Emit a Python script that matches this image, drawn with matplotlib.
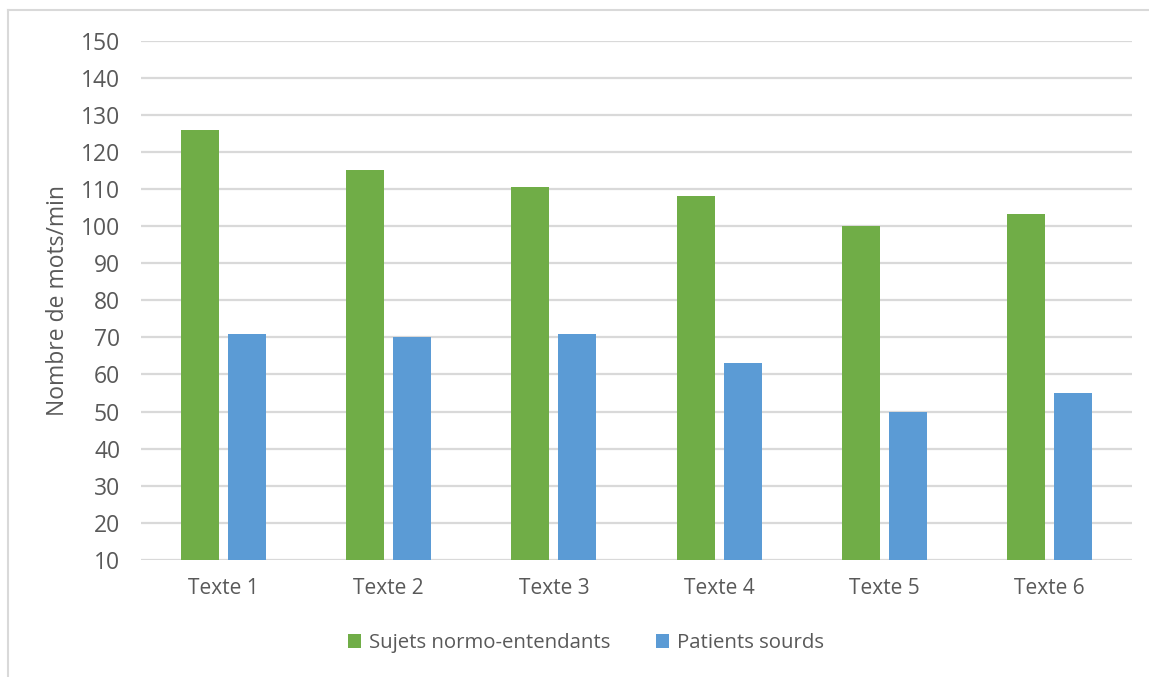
import matplotlib
matplotlib.use('Agg')
import matplotlib.pyplot as plt
from matplotlib.patches import Patch
from matplotlib.lines import Line2D
import numpy as np

categories = ['Texte 1', 'Texte 2', 'Texte 3', 'Texte 4', 'Texte 5', 'Texte 6']
normo = [126, 115, 110.5, 108, 100, 103.3]
sourds = [71, 70, 71, 63, 50, 55]
series_names = ['Sujets normo-entendants', 'Patients sourds']
yticks = list(range(10, 151, 10))

green = '#70AD47'
blue = '#5B9BD5'
text_col = '#595959'
grid_col = '#D9D9D9'

plt.rcParams['font.family'] = ['Open Sans', 'DejaVu Sans']

fig = plt.figure(figsize=(11.49, 6.77), dpi=100)
ax = fig.add_axes([141 / 1149, 1 - 560 / 677, (1132 - 141) / 1149, (560 - 40.5) / 677])

x = np.arange(len(categories))
w = 0.23
ax.bar(x - 0.1425, [v - 10 for v in normo], w, bottom=10, color=green, zorder=3)
ax.bar(x + 0.1425, [v - 10 for v in sourds], w, bottom=10, color=blue, zorder=3)

ax.set_xlim(-0.5, len(categories) - 0.5)
ax.set_ylim(10, 150)
ax.set_yticks(yticks)
ax.set_xticks(x)
ax.set_xticklabels(categories)
ax.yaxis.grid(True, color=grid_col, linewidth=1.6)
ax.set_axisbelow(True)
for s in ax.spines.values():
    s.set_visible(False)
ax.tick_params(axis='y', length=0, labelsize=16.5, colors=text_col, pad=15)
ax.tick_params(axis='x', length=0, labelsize=15, colors=text_col, pad=13)
ax.set_ylabel('Nombre de mots/min', fontsize=16.5, color=text_col, labelpad=8)

handles = [Patch(facecolor=green), Patch(facecolor=blue)]
fig.legend(handles, series_names, loc='center', bbox_to_anchor=(586 / 1149, 1 - 643 / 677),
           ncol=2, frameon=False, fontsize=14.7, labelcolor=text_col,
           handlelength=0.65, handleheight=0.65, handletextpad=0.4, columnspacing=2.2)

# chart frame (top and left edges visible in the reference)
fig.add_artist(Line2D([8 / 1149, 8 / 1149], [0, 1 - 10 / 677], color=grid_col, linewidth=1.5))
fig.add_artist(Line2D([8 / 1149, 1], [1 - 10 / 677, 1 - 10 / 677], color=grid_col, linewidth=1.5))

fig.savefig('out.png', dpi=100)
